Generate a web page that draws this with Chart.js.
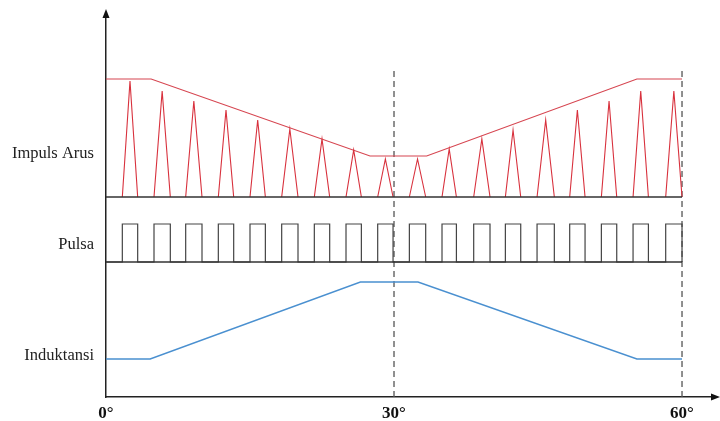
<!DOCTYPE html>
<html>
<head>
<meta charset="utf-8">
<script src="https://cdn.jsdelivr.net/npm/chart.js@4/dist/chart.umd.min.js"></script>
<style>
    body { margin: 0; background: #fff; }
    #wrap { width: 720px; height: 421px; }
</style>
</head>
<body>
<div id="wrap"><canvas id="chart" width="720" height="421"></canvas></div>
<script>
// rotor angle in degrees, levels in arbitrary units (0 = x axis)
const xTicks = [0, 30, 60];
const rowLabels = ['Impuls Arus', 'Pulsa', 'Induktansi'];
const rowLevels = [243, 152, 41];

// pulse edges (degrees)
const pulseOn = [1.7, 5, 8.3, 11.7, 15, 18.3, 21.7, 25, 28.3, 31.6, 35, 38.3, 41.6, 44.9, 48.3, 51.6, 54.9, 58.3];
const pulseOff = [3.3, 6.7, 10, 13.3, 16.6, 20, 23.3, 26.6, 29.9, 33.3, 36.5, 40, 43.2, 46.7, 49.9, 53.2, 56.5, 60];
const pulseLow = 135;
const pulseHigh = 173;

// current impulse peaks
const impulseBase = 200;
const impulsePeak = [316, 306, 296, 287, 277, 268, 258, 247, 238, 238, 248, 258, 267, 277, 287, 296, 306, 306];

// current envelope
const envelopeX = [0, 4.7, 27.5, 33.4, 55.3, 60];
const envelopeY = [318, 318, 241, 241, 318, 318];

// inductance profile
const inductX = [0, 4.6, 26.5, 32.5, 55.3, 60];
const inductY = [38, 38, 115, 115, 38, 38];

const dashedX = [30, 60];
const dashedTop = 329;

function buildPulse() {
    const pts = [{ x: 0, y: pulseLow }];
    pulseOn.forEach((on, i) => {
        pts.push({ x: on, y: pulseLow }, { x: on, y: pulseHigh });
        pts.push({ x: pulseOff[i], y: pulseHigh }, { x: pulseOff[i], y: pulseLow });
    });
    pts.push({ x: 60, y: pulseLow });
    return pts;
}

function buildImpulses() {
    const pts = [];
    pulseOn.forEach((on, i) => {
        const off = pulseOff[i];
        pts.push({ x: on, y: impulseBase }, { x: (on + off) / 2, y: impulsePeak[i] }, { x: off, y: impulseBase });
        pts.push({ x: off, y: null });
    });
    return pts;
}

const zip = (xs, ys) => xs.map((x, i) => ({ x: x, y: ys[i] }));

const lineDefaults = { pointRadius: 0, fill: false, tension: 0, spanGaps: false };

const datasets = [
    Object.assign({ data: [{ x: 0, y: impulseBase }, { x: 60, y: impulseBase }], borderColor: '#333', borderWidth: 1.3 }, lineDefaults),
    Object.assign({ data: [{ x: 0, y: pulseLow }, { x: 60, y: pulseLow }], borderColor: '#333', borderWidth: 1.3 }, lineDefaults),
    Object.assign({ data: buildPulse(), borderColor: '#444', borderWidth: 1.2 }, lineDefaults),
    Object.assign({ data: buildImpulses(), borderColor: '#d8313d', borderWidth: 1.1 }, lineDefaults),
    Object.assign({ data: zip(envelopeX, envelopeY), borderColor: '#d64550', borderWidth: 1.1 }, lineDefaults),
    Object.assign({ data: zip(inductX, inductY), borderColor: '#4a90d0', borderWidth: 1.4 }, lineDefaults)
];
dashedX.forEach(x => {
    datasets.push(Object.assign({
        data: [{ x: x, y: 0 }, { x: x, y: dashedTop }],
        borderColor: '#555', borderWidth: 1.3, borderDash: [6, 4]
    }, lineDefaults));
});

const arrowPlugin = {
    id: 'arrows',
    afterDraw(chart) {
        const ctx = chart.ctx;
        const a = chart.chartArea;
        ctx.save();
        ctx.fillStyle = '#111';
        ctx.beginPath();
        ctx.moveTo(a.left, a.top - 4);
        ctx.lineTo(a.left - 3.5, a.top + 5);
        ctx.lineTo(a.left + 3.5, a.top + 5);
        ctx.closePath();
        ctx.fill();
        ctx.beginPath();
        ctx.moveTo(a.right + 4, a.bottom);
        ctx.lineTo(a.right - 5, a.bottom - 3.5);
        ctx.lineTo(a.right - 5, a.bottom + 3.5);
        ctx.closePath();
        ctx.fill();
        ctx.restore();
    }
};

new Chart(document.getElementById('chart').getContext('2d'), {
    type: 'line',
    data: { datasets: datasets },
    options: {
        responsive: false,
        animation: false,
        layout: { padding: { top: 13, right: 4, left: 0, bottom: 0 } },
        plugins: { legend: { display: false }, tooltip: { enabled: false } },
        scales: {
            x: {
                type: 'linear',
                min: 0,
                max: 63.54,
                afterBuildTicks: scale => { scale.ticks = xTicks.map(v => ({ value: v })); },
                afterFit: scale => {
                    scale.height = 24;
                    scale.paddingLeft = 0;
                    scale.paddingRight = 0;
                },
                grid: { display: false, drawTicks: false },
                border: { display: true, color: '#222', width: 1.5 },
                ticks: {
                    autoSkip: false,
                    maxRotation: 0,
                    padding: 6,
                    color: '#111',
                    font: { family: 'Liberation Serif', size: 17, weight: 'bold' },
                    callback: v => v + '°'
                }
            },
            y: {
                type: 'linear',
                min: 0,
                max: 384,
                afterBuildTicks: scale => { scale.ticks = rowLevels.map(v => ({ value: v })); },
                afterFit: scale => {
                    scale.width = 106;
                    scale.paddingTop = 0;
                    scale.paddingBottom = 0;
                },
                grid: { display: false, drawTicks: false },
                border: { display: true, color: '#222', width: 1.5 },
                ticks: {
                    autoSkip: false,
                    padding: 12,
                    color: '#222',
                    font: { family: 'Liberation Serif', size: 16.5 },
                    callback: v => rowLabels[rowLevels.indexOf(v)]
                }
            }
        }
    },
    plugins: [arrowPlugin]
});
</script>
</body>
</html>
